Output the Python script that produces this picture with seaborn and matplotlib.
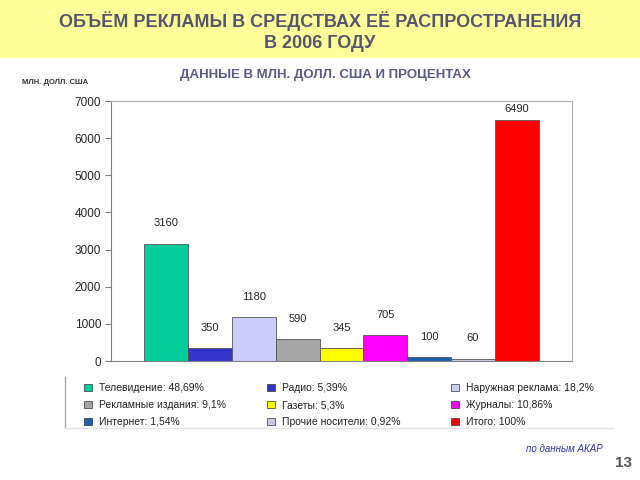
import matplotlib
matplotlib.use("Agg")
import matplotlib.pyplot as plt
import matplotlib.patches as mpatches
import seaborn as sns
import pandas as pd

# data
categories = ["Телевидение", "Радио", "Наружная реклама", "Рекламные издания",
              "Газеты", "Журналы", "Интернет", "Прочие носители", "Итого"]
values = [3160, 350, 1180, 590, 345, 705, 100, 60, 6490]
shares = ["48,69%", "5,39%", "18,2%", "9,1%", "5,3%", "10,86%", "1,54%", "0,92%", "100%"]
colors = ["#00CC99", "#3333CC", "#CCCCFF", "#A6A6A6", "#FFFF00",
          "#FF00FF", "#1F5FAF", "#C8C8E8", "#FF0000"]
yticks = [0, 1000, 2000, 3000, 4000, 5000, 6000, 7000]

df = pd.DataFrame({"group": ["2006"] * len(categories), "media": categories, "value": values})

sns.set_style("white")
plt.rcParams["font.family"] = ["Liberation Sans", "DejaVu Sans"]

fig = plt.figure(figsize=(6.4, 4.8), dpi=100)
title_col = "#55556E"

# yellow header band
fig.patches.append(mpatches.Rectangle((0, 1 - 58 / 480), 1, 58 / 480, transform=fig.transFigure,
                                      facecolor="#FFFF99", edgecolor="none", zorder=0))
fig.text(0.5, 1 - 21 / 480, "ОБЪЁМ РЕКЛАМЫ В СРЕДСТВАХ ЕЁ РАСПРОСТРАНЕНИЯ", ha="center", va="center",
         fontsize=13, fontweight="bold", color=title_col)
fig.text(0.5, 1 - 44 / 480, "В 2006 ГОДУ", ha="center", va="center",
         fontsize=13, fontweight="bold", color=title_col)
fig.text(325 / 640, 1 - 75 / 480, "ДАННЫЕ В МЛН. ДОЛЛ. США И ПРОЦЕНТАХ", ha="center", va="center",
         fontsize=9.5, fontweight="bold", color="#5A5A82")
fig.text(22 / 640, 1 - 83 / 480, "МЛН. ДОЛЛ. США", ha="left", va="center",
         fontsize=5.5, fontweight="bold", color="#333333")

ax = fig.add_axes([111 / 640, 1 - 361 / 480, 461 / 640, 260 / 480])
sns.barplot(data=df, x="group", y="value", hue="media", hue_order=categories,
            palette=colors, saturation=1, width=0.855, dodge=True,
            edgecolor="#555555", linewidth=0.6, legend=False, ax=ax)
ax.set_xlim(-0.5, 0.5)
ax.set_ylim(0, 7000)
ax.set_yticks(yticks)
ax.set_yticklabels([str(t) for t in yticks], fontsize=8.5)
ax.set_xticks([])
ax.set_xlabel("")
ax.set_ylabel("")
for s in ax.spines.values():
    s.set_color("#B0B0B0")
    s.set_linewidth(0.8)
ax.spines["left"].set_color("#808080")
ax.spines["bottom"].set_color("#808080")
ax.tick_params(axis="y", left=True, length=4, color="#808080", pad=3)

for i, cont in enumerate(ax.containers):
    ax.bar_label(cont, fmt="%d", padding=4 if i == len(ax.containers) - 1 else 11, fontsize=8)

# legend: three columns, row order as in the source
handles = [mpatches.Patch(facecolor=c, edgecolor="#333333", linewidth=0.5,
                          label=f"{n}: {p}") for n, p, c in zip(categories, shares, colors)]
col_x = [84, 267, 451]
for k, x in enumerate(col_x):
    hs = [handles[k], handles[k + 3], handles[k + 6]]
    leg = fig.legend(hs, [h.get_label() for h in hs], ncol=1, loc="upper left",
                     bbox_to_anchor=(x / 640, 1 - 383 / 480), fontsize=7.5, frameon=False,
                     handlelength=0.75, handleheight=0.75, handletextpad=0.7,
                     labelspacing=0.68, borderpad=0, borderaxespad=0)
    for t in leg.get_texts():
        t.set_color("#222222")
fig.lines.append(plt.Line2D([65 / 640, 65 / 640], [1 - 377 / 480, 1 - 428 / 480],
                            transform=fig.transFigure, color="#AAAAAA", linewidth=1))
fig.lines.append(plt.Line2D([65 / 640, 613 / 640], [1 - 428 / 480, 1 - 428 / 480],
                            transform=fig.transFigure, color="#E5E5E5", linewidth=1))

fig.text(603 / 640, 1 - 449 / 480, "по данным АКАР", ha="right", va="center",
         fontsize=7, style="italic", color="#3333AA")
fig.text(632 / 640, 1 - 463 / 480, "13", ha="right", va="center",
         fontsize=11, fontweight="bold", color="#555555")

fig.savefig("out.png", dpi=100)
